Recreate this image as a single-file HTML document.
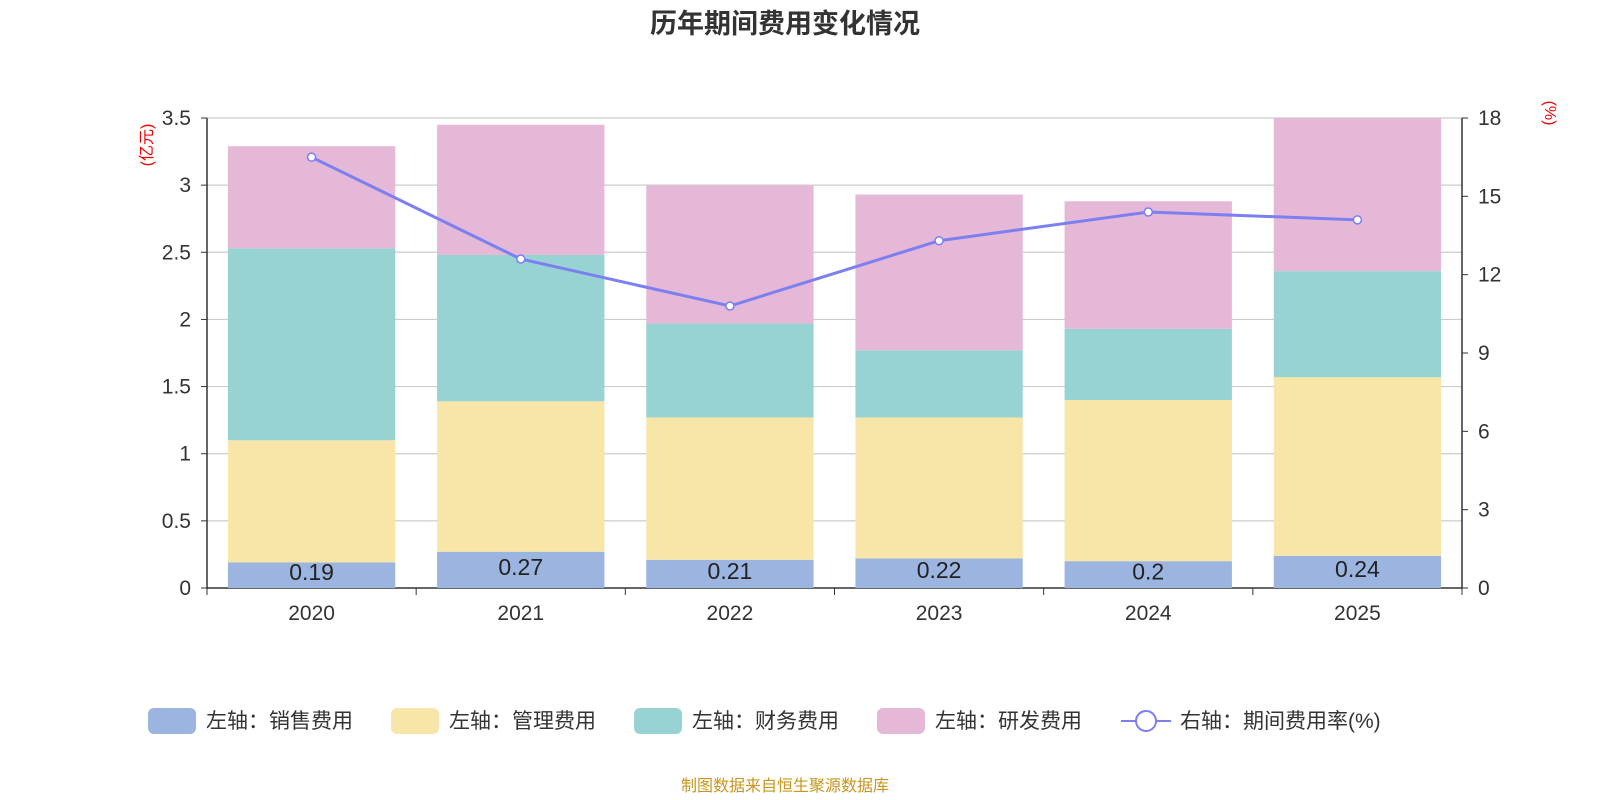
<!DOCTYPE html>
<html><head><meta charset="utf-8">
<style>
body{margin:0;background:#fff;}
svg{display:block;font-family:"Liberation Sans","Noto Sans CJK SC",sans-serif;}
</style></head>
<body>
<svg id="chart" width="1600" height="800">
<text x="785" y="33" text-anchor="middle" font-size="27" font-weight="bold" fill="#333">历年期间费用变化情况</text>
<text transform="translate(152,145) rotate(-90)" text-anchor="middle" font-size="16" fill="#e00">(亿元)</text>
<text transform="translate(1545,113) rotate(90)" text-anchor="middle" font-size="16" fill="#e00">(%)</text>
<g id="grid"></g><g id="bars"></g><g id="axes"></g><g id="line"></g><g id="legend"></g>
<text x="785" y="791" text-anchor="middle" font-size="16" fill="#c8961e">制图数据来自恒生聚源数据库</text>
</svg>
<script>
const categories=["2020","2021","2022","2023","2024","2025"];
const sales=[0.19,0.27,0.21,0.22,0.2,0.24];
const mgmt=[0.91,1.12,1.06,1.05,1.20,1.33];
const finance=[1.43,1.09,0.70,0.50,0.53,0.79];
const rd=[0.76,0.97,1.03,1.16,0.95,1.14];
const rate=[16.5,12.6,10.8,13.3,14.4,14.1];
const leftTicks=[0,0.5,1,1.5,2,2.5,3,3.5];
const leftTickLabels=["0","0.5","1","1.5","2","2.5","3","3.5"];
const rightTicks=[0,3,6,9,12,15,18];
const seriesNames=["左轴：销售费用","左轴：管理费用","左轴：财务费用","左轴：研发费用"];
const colors=["#9bb5e0","#f7e6a8","#98d3d4","#e6b8d7"];
const NS="http://www.w3.org/2000/svg";
const X0=207,X1=1462,Y0=588,Y1=118;
const band=(X1-X0)/categories.length;
const yL=v=>Y0-(v/3.5)*(Y0-Y1);
const yR=v=>Y0-(v/18)*(Y0-Y1);
const xC=i=>X0+band*(i+0.5);
function mk(tag,attrs,parent,text){const e=document.createElementNS(NS,tag);for(const k in attrs)e.setAttribute(k,attrs[k]);if(text!==undefined)e.textContent=text;document.getElementById(parent).appendChild(e);return e;}
leftTicks.forEach((t,i)=>{
  const g=mk('line',{x1:X0,x2:X1,y1:yL(t),y2:yL(t),stroke:i==0?'#333':'#ccc','stroke-width':i==0?1.5:1.2},'grid');
  
  
  const l=mk('text',{x:X0-16,y:yL(t)+7,'text-anchor':'end','font-size':21,fill:'#333'},'axes',leftTickLabels[i]);
  
  
  const k=mk('line',{x1:X0-6,x2:X0,y1:yL(t),y2:yL(t),stroke:'#333'},'axes');
  
  
});
rightTicks.forEach(t=>{
  const l=mk('text',{x:X1+16,y:yR(t)+7,'font-size':21,fill:'#333'},'axes',String(t));
  
  
  const k=mk('line',{x1:X1,x2:X1+6,y1:yR(t),y2:yR(t),stroke:'#333'},'axes');
  
  
});
[X0,X1].forEach(x=>{const a=mk('line',{x1:x,x2:x,y1:Y1,y2:Y0+1,stroke:'#333','stroke-width':1.5},'axes');

});
for(let i=0;i<=categories.length;i++){const k=mk('line',{x1:X0+band*i,x2:X0+band*i,y1:Y0,y2:Y0+7,stroke:'#333'},'axes');

}
const series=[sales,mgmt,finance,rd];
categories.forEach((c,i)=>{
  let acc=0;const bw=band*0.8,bx=xC(i)-bw/2;
  series.forEach((s,j)=>{
    const r=mk('rect',{x:bx,y:yL(acc+s[i]),width:bw,height:yL(acc)-yL(acc+s[i]),fill:colors[j]},'bars');
    
    
    acc+=s[i];
  });
  const v=mk('text',{x:xC(i),y:yL(sales[i]/2)+5,'text-anchor':'middle','font-size':23,fill:'#222'},'bars',String(sales[i]));
  
  
  const xl=mk('text',{x:xC(i),y:620,'text-anchor':'middle','font-size':21,fill:'#333'},'axes',c);
  
  
});
const pl=mk('polyline',{points:rate.map((v,i)=>xC(i)+','+yR(v)).join(' '),fill:'none',stroke:'#7b7ff0','stroke-width':3},'line');


rate.forEach((v,i)=>{const p=mk('circle',{cx:xC(i),cy:yR(v),r:4,fill:'#fff',stroke:'#7b7ff0','stroke-width':1.5},'line');

});
const lx=[148,391,634,877];
seriesNames.forEach((n,j)=>{
  const r=mk('rect',{x:lx[j],y:708,width:48,height:26,rx:6,fill:colors[j]},'legend');
  
  
  const t=mk('text',{x:lx[j]+58,y:728,'font-size':21,fill:'#333'},'legend',n);
  
  
});
const ll=mk('line',{x1:1121,x2:1171,y1:721,y2:721,stroke:'#7b7ff0','stroke-width':2},'legend');


const lc=mk('circle',{cx:1146,cy:721,r:10,fill:'#fff',stroke:'#7b7ff0','stroke-width':2},'legend');


const lt=mk('text',{x:1180,y:728,'font-size':21,fill:'#333'},'legend','右轴：期间费用率(%)');


</script>
</body></html>
